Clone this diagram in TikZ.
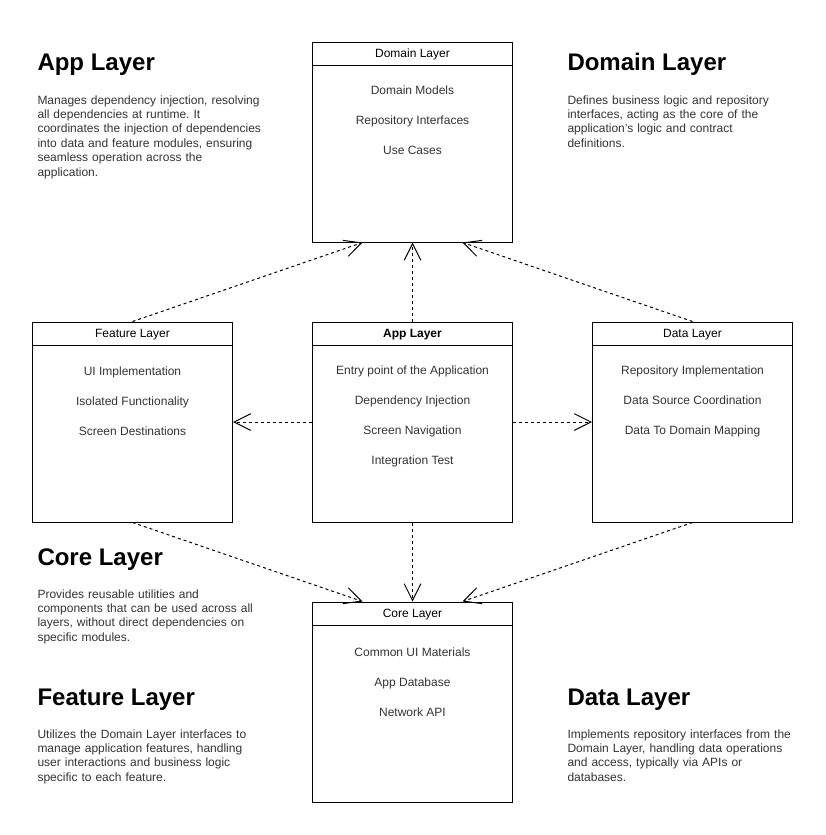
\documentclass[tikz,border=0pt]{standalone}
\usepackage{fontspec}
\setmainfont{Liberation Sans}
\usepackage{tikz}
\usetikzlibrary{arrows.meta}
\definecolor{text_gray}{RGB}{51,51,51}
\definecolor{line_black}{RGB}{0,0,0}
\frenchspacing

\begin{document}
\begin{tikzpicture}[->,x=0.75pt,y=-0.75pt,line width=0.75pt,>={Straight Barb[length=12.5pt,width=12.5pt]}]
    \tikzstyle{layer}=[draw=line_black, rectangle, minimum width=150pt, minimum height=150pt, inner sep=0pt, fill=none]
    \tikzstyle{head}=[draw=line_black, rectangle, anchor=north, minimum width=150pt, minimum height=17.25pt, inner sep=0pt, text height=7.75pt, text depth=1.5pt, font=\fontsize{9pt}{10.8pt}\selectfont]
    \tikzstyle{item}=[anchor=base, inner sep=0pt, text=text_gray, font=\fontsize{9pt}{10.8pt}\selectfont]
    \tikzstyle{title}=[anchor=base west, inner sep=0pt, font=\fontsize{18pt}{21.6pt}\selectfont\bfseries]
    \tikzstyle{desc}=[anchor=base west, inner sep=0pt, align=left, text width=200pt, text=text_gray, font=\fontsize{9pt}{10.8pt}\selectfont]
    \tikzstyle{dep}=[dash pattern=on 2.25pt off 2.25pt]

    \useasboundingbox (0,0) rectangle (825,835);

    % layer boxes
    \node[layer] (dom)  at (412.5,142) {};
    \node[layer] (feat) at (132.5,422) {};
    \node[layer] (app)  at (412.5,422) {};
    \node[layer] (data) at (692.5,422) {};
    \node[layer] (core) at (412.5,702) {};

    \node[head] (domh)  at (dom.north)  {Domain Layer};
    \node[head] (feath) at (feat.north) {Feature Layer};
    \node[head] (apph)  at (app.north)  {\bfseries App Layer};
    \node[head] (datah) at (data.north) {Data Layer};
    \node[head] (coreh) at (core.north) {Core Layer};

    \node[item] (dom1) at (412.5,94.5)  {Domain Models};
    \node[item] (dom2) at (412.5,124.5) {Repository Interfaces};
    \node[item] (dom3) at (412.5,154.5) {Use Cases};

    \node[item] (feat1) at (132.5,375) {UI Implementation};
    \node[item] (feat2) at (132.5,405) {Isolated Functionality};
    \node[item] (feat3) at (132.5,435) {Screen Destinations};

    \node[item] (app1) at (412.5,374.5) {Entry point of the Application};
    \node[item] (app2) at (412.5,404.5) {Dependency Injection};
    \node[item] (app3) at (412.5,434.5) {Screen Navigation};
    \node[item] (app4) at (412.5,464.5) {Integration Test};

    \node[item] (data1) at (692.5,374.5) {Repository Implementation};
    \node[item] (data2) at (692.5,404.5) {Data Source Coordination};
    \node[item] (data3) at (692.5,434.5) {Data To Domain Mapping};

    \node[item] (core1) at (412.5,656) {Common UI Materials};
    \node[item] (core2) at (412.5,686) {App Database};
    \node[item] (core3) at (412.5,716) {Network API};

    % side notes
    \node[title] (tapp)  at (37,70)  {App Layer};
    \node[desc]  (dapp)  at (37,104) {Manages dependency injection, resolving\\all dependencies at runtime. It\\coordinates the injection of dependencies\\into data and feature modules, ensuring\\seamless operation across the\\application.};
    \node[title] (tdom)  at (567,70)  {Domain Layer};
    \node[desc]  (ddom)  at (567,104) {Defines business logic and repository\\interfaces, acting as the core of the\\application’s logic and contract\\definitions.};
    \node[title] (tcore) at (37,565) {Core Layer};
    \node[desc]  (dcore) at (37,598) {Provides reusable utilities and\\components that can be used across all\\layers, without direct dependencies on\\specific modules.};
    \node[title] (tfeat) at (37,705) {Feature Layer};
    \node[desc]  (dfeat) at (37,738) {Utilizes the Domain Layer interfaces to\\manage application features, handling\\user interactions and business logic\\specific to each feature.};
    \node[title] (tdata) at (567,705) {Data Layer};
    \node[desc]  (ddata) at (567,738) {Implements repository interfaces from the\\Domain Layer, handling data operations\\and access, typically via APIs or\\databases.};

    \path
     (feat.north) edge[dep] ([xshift=-37.5pt]dom.south)
     (app.north)  edge[dep] (dom.south)
     (data.north) edge[dep] ([xshift=37.5pt]dom.south)
     (app.west)   edge[dep] (feat.east)
     (app.east)   edge[dep] (data.west)
     (feat.south) edge[dep] ([xshift=-37.5pt]core.north)
     (app.south)  edge[dep] (core.north)
     (data.south) edge[dep] ([xshift=37.5pt]core.north)
     ;
\end{tikzpicture}
\end{document}
